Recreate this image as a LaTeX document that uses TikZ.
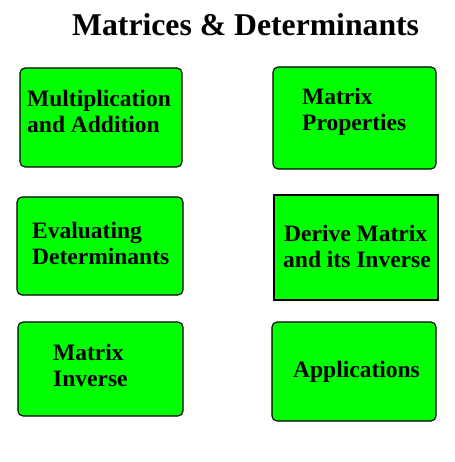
\documentclass[tikz,border=0pt]{standalone}
\usepackage{fontspec}
\setmainfont{Liberation Serif}
\definecolor{boxgreen}{HTML}{00FF00}
\begin{document}
\begin{tikzpicture}[x=1pt,y=-1pt,
  box/.style={draw=black,line width=1.1pt,fill=boxgreen,rounded corners=5pt},
  sqbox/.style={draw=black,line width=1.1pt,fill=boxgreen},
  lbl/.style={anchor=base west,inner sep=0pt,font=\fontsize{23.5}{26}\selectfont\bfseries},
  ttl/.style={anchor=base west,inner sep=0pt,font=\fontsize{31.7}{36}\selectfont\bfseries}]
\useasboundingbox (0,0) rectangle (454,462);
\node[ttl] (title) at (72,36) {Matrices \& Determinants};
% boxes
\draw[box] (20,68) rectangle (182,167);
\coordinate (b1) at (101,117);
\draw[box] (273,67) rectangle (436,169);
\coordinate (b2) at (354,118);
\draw[box] (17,197) rectangle (183,295);
\coordinate (b3) at (100,246);
\draw[sqbox] (274,195) rectangle (438,300);
\coordinate (b4) at (356,247);
\draw[box] (18,322) rectangle (183,416);
\coordinate (b5) at (100,369);
\draw[box] (272,322) rectangle (436,421);
\coordinate (b6) at (354,371);
% labels
\node[lbl] (t1a) at (27,107) {Multiplication};
\node[lbl] (t1b) at (27,133) {and Addition};
\node[lbl] (t2a) at (302,105) {Matrix};
\node[lbl] (t2b) at (302,131) {Properties};
\node[lbl] (t3a) at (32,238) {Evaluating};
\node[lbl] (t3b) at (32,264) {Determinants};
\node[lbl] (t4a) at (284,241) {Derive Matrix};
\node[lbl] (t4b) at (283,267) {and its Inverse};
\node[lbl] (t5a) at (53,360) {Matrix};
\node[lbl] (t5b) at (53,386) {Inverse};
\node[lbl] (t6a) at (293,377) {Applications};
\end{tikzpicture}
\end{document}
